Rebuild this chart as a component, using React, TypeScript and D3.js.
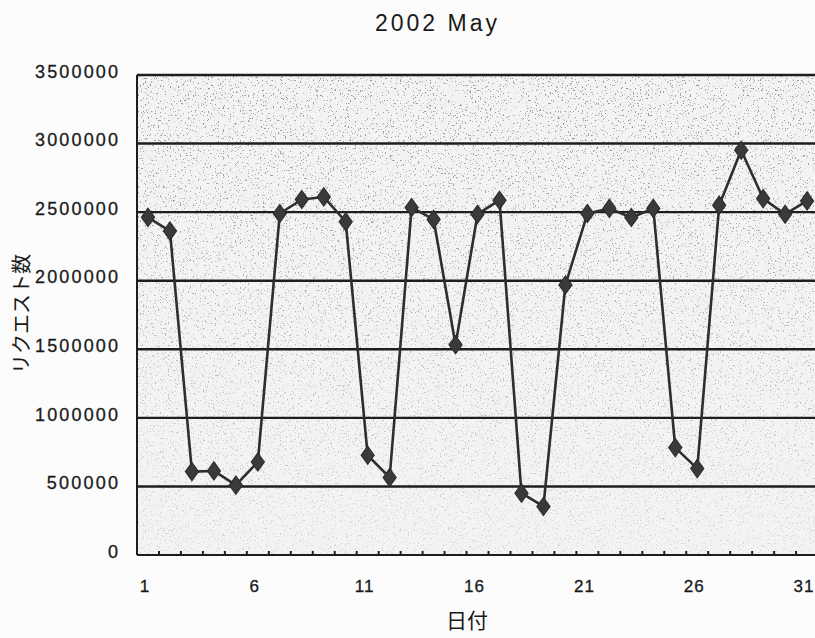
import React from "react";
import * as d3 from "d3";

const title = "2002 May";
const xTitle = "日付";
const yTitle = "リクエスト数";
const days = d3.range(1, 32);
const requests = [
  2462000, 2362000, 608000, 613000, 509000, 678000, 2490000, 2592000, 2611000, 2430000,
  727000, 565000, 2534000, 2447000, 1533000, 2485000, 2587000, 451000, 354000, 1969000,
  2490000, 2527000, 2461000, 2527000, 783000, 630000, 2551000, 2951000, 2599000, 2485000,
  2582000,
];
const yTicks = [0, 500000, 1000000, 1500000, 2000000, 2500000, 3000000, 3500000];
const xTickLabels = [1, 6, 11, 16, 21, 26, 31];

const W = 815;
const H = 638;
const left = 137;
const top = 75;
const bottom = 555;
const band = 21.97;

export default function App() {
  const x = d3
    .scaleBand<number>()
    .domain(days)
    .range([left, left + band * days.length])
    .paddingInner(0)
    .paddingOuter(0);
  const y = d3.scaleLinear().domain([0, 3500000]).range([bottom, top]);
  const cx = (d: number) => (x(d) as number) + x.bandwidth() / 2;
  const line = d3
    .line<number>()
    .x((_, i) => cx(days[i]))
    .y((v) => y(v));
  const diamond = d3.symbol(d3.symbolDiamond, 95)() as string;
  const plotRight = left + band * days.length;
  const numFont = "'Liberation Sans', Arial, sans-serif";

  return (
    <div style={{ position: "absolute", left: 0, top: 0, width: W, height: H }}>
      <svg width={W} height={H} style={{ display: "block", background: "#fcfcfc" }}>
        <defs>
          <filter id="grain" x="0" y="0" width="100%" height="100%">
            <feTurbulence type="fractalNoise" baseFrequency="0.6" numOctaves="2" seed="7" />
            <feColorMatrix
              type="matrix"
              values="0 0 0 0 0.3  0 0 0 0 0.3  0 0 0 0 0.3  12 0 0 0 -7.6"
            />
          </filter>
          <linearGradient id="fade" x1="0" y1="0" x2="0" y2="1">
            <stop offset="0" stopColor="#fff" stopOpacity="1" />
            <stop offset="1" stopColor="#fff" stopOpacity="0.3" />
          </linearGradient>
          <mask id="fadeMask">
            <rect x={left} y={top} width={plotRight - left} height={bottom - top} fill="url(#fade)" />
          </mask>
        </defs>
        <rect x={left} y={top} width={plotRight - left} height={bottom - top} fill="#f3f3f3" />
        <rect
          x={left}
          y={top}
          width={plotRight - left}
          height={bottom - top}
          filter="url(#grain)"
          mask="url(#fadeMask)"
        />
        {/* gridlines */}
        {yTicks.map((t) => (
          <line
            key={t}
            x1={left}
            x2={plotRight}
            y1={y(t)}
            y2={y(t)}
            stroke="#1e1e1e"
            strokeWidth={t === 0 ? 2 : 2.4}
          />
        ))}
        <line x1={left} x2={left} y1={top} y2={bottom} stroke="#1e1e1e" strokeWidth={2} />
        {/* x ticks between categories */}
        {days.map((d) => (
          <line
            key={d}
            x1={(x(d) as number) + band}
            x2={(x(d) as number) + band}
            y1={bottom}
            y2={bottom - 4}
            stroke="#1e1e1e"
            strokeWidth={2}
          />
        ))}
        {/* y labels */}
        {yTicks.map((t) => {
          const s = String(t);
          return (
            <text
              key={t}
              x={118}
              y={y(t) - 2}
              textAnchor="end"
              dominantBaseline="middle"
              fontFamily={numFont}
              fontSize={18}
              fill="#1a1a1a"
              stroke="#1a1a1a"
              strokeWidth={0.3}
              textLength={s.length > 1 ? s.length * 11.86 : undefined}
              lengthAdjust="spacing"
            >
              {s}
            </text>
          );
        })}
        {/* x labels */}
        {xTickLabels.map((d) => (
          <text
            key={d}
            x={cx(d) - 3}
            y={592}
            textAnchor="middle"
            fontFamily={numFont}
            fontSize={17}
            fill="#1a1a1a"
            stroke="#1a1a1a"
            strokeWidth={0.3}
            letterSpacing={1}
          >
            {d}
          </text>
        ))}
        {/* series */}
        <path d={line(requests) as string} fill="none" stroke="#2e2e2e" strokeWidth={2.6} strokeLinejoin="round" />
        {requests.map((v, i) => (
          <path
            key={i}
            d={diamond}
            transform={`translate(${cx(days[i])},${y(v)}) scale(1.25,1)`}
            fill="#3a3a3a"
            stroke="#2e2e2e"
            strokeWidth={1}
          />
        ))}
        {/* titles */}
        <text
          x={436}
          y={31}
          textAnchor="middle"
          fontFamily={numFont}
          fontSize={23}
          fill="#1a1a1a"
          textLength={122}
          lengthAdjust="spacing"
        >
          {title}
        </text>
        <text
          x={467}
          y={628}
          textAnchor="middle"
          fontFamily="'Noto Sans CJK JP', sans-serif"
          fontSize={21}
          fill="#1a1a1a"
        >
          {xTitle}
        </text>
        <text
          transform="translate(29,314) rotate(-90)"
          textAnchor="middle"
          fontFamily="'Noto Sans CJK JP', sans-serif"
          fontSize={20}
          fill="#1a1a1a"
        >
          {yTitle}
        </text>
      </svg>
    </div>
  );
}
